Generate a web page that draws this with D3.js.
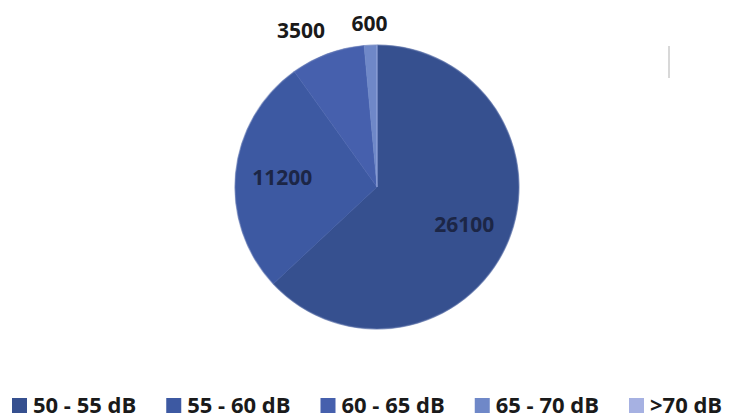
<!DOCTYPE html>
<html>
<head>
<meta charset="utf-8">
<script src="https://cdn.jsdelivr.net/npm/d3@7/dist/d3.min.js"></script>
<style>
  body { margin: 0; background: #fff; overflow: hidden; }
  text { font-family: "Open Sans", Lato, sans-serif; font-weight: bold; }
</style>
</head>
<body>
<script>
// Chart data
var categories = ["50 - 55 dB", "55 - 60 dB", "60 - 65 dB", "65 - 70 dB", ">70 dB"];
var values = [26100, 11200, 3500, 600, 0];
var colors = ["#36508f", "#3d59a2", "#4660ad", "#6f88c8", "#a6b1e2"];
// which labels sit outside the pie
var outside = [false, false, true, true, false];

var width = 755, height = 418;
var cx = 377, cy = 187, radius = 142;

var svg = d3.select("body")
    .append("svg")
        .attr("width", width)
        .attr("height", height)
        .style("display", "block");

var data = categories.map(function(c, i) {
    return {name: c, value: values[i], color: colors[i], outside: outside[i]};
});

var pie = d3.pie()
    .sort(null)
    .value(function(d) { return d.value; });

var arc = d3.arc().innerRadius(0).outerRadius(radius);
var inLabel = d3.arc().innerRadius(radius * 0.67).outerRadius(radius * 0.67);
var outLabel = d3.arc().innerRadius(radius * 1.15).outerRadius(radius * 1.15);

var g = svg.append("g")
    .attr("transform", "translate(" + cx + "," + cy + ")");

var arcs = pie(data);

g.selectAll("path.slice")
    .data(arcs)
    .enter()
    .append("path")
        .attr("class", "slice")
        .attr("d", arc)
        .style("fill", function(d) { return d.data.color; })
        .style("stroke", function(d) { return d.data.color; })
        .style("stroke-width", 0.5);

// faint rim like the original's soft edge
g.append("circle")
    .attr("r", radius)
    .style("fill", "none")
    .style("stroke", "#7f8fc0")
    .style("stroke-opacity", 0.35)
    .style("stroke-width", 1.5);

// value labels (outside labels on the left side hang to the left)
function hangsLeft(d) {
    return d.data.outside && outLabel.centroid(d)[0] < -20;
}

g.selectAll("text.value")
    .data(arcs.filter(function(d) { return d.data.value > 0; }))
    .enter()
    .append("text")
        .attr("class", "value")
        .attr("transform", function(d) {
            var c = d.data.outside ? outLabel.centroid(d) : inLabel.centroid(d);
            return "translate(" + c[0] + "," + c[1] + ")";
        })
        .attr("dx", function(d) { return hangsLeft(d) ? 5 : 0; })
        .attr("dy", function(d) { return hangsLeft(d) ? "0.2em" : "0.35em"; })
        .style("text-anchor", function(d) { return hangsLeft(d) ? "end" : "middle"; })
        .style("font-size", "21px")
        .style("fill", function(d) { return d.data.outside ? "#1a1a1a" : "#1c2646"; })
        .text(function(d) { return d.data.value; });

// scan artifact line at top right
svg.append("line")
    .attr("x1", 669).attr("x2", 669)
    .attr("y1", 46).attr("y2", 78)
    .style("stroke", "#d8d8d8")
    .style("stroke-width", 2);

// legend
var legend = svg.append("g").attr("class", "legend");
var lx = 12;
data.forEach(function(d) {
    legend.append("rect")
        .attr("x", lx)
        .attr("y", 398)
        .attr("width", 15)
        .attr("height", 15)
        .style("fill", d.color);
    var t = legend.append("text")
        .attr("x", lx + 21)
        .attr("y", 413)
        .style("font-size", "22px")
        .style("fill", "#1a1a1a")
        .text(d.name);
    lx = lx + 21 + t.node().getComputedTextLength() + 30;
});
</script>
</body>
</html>
